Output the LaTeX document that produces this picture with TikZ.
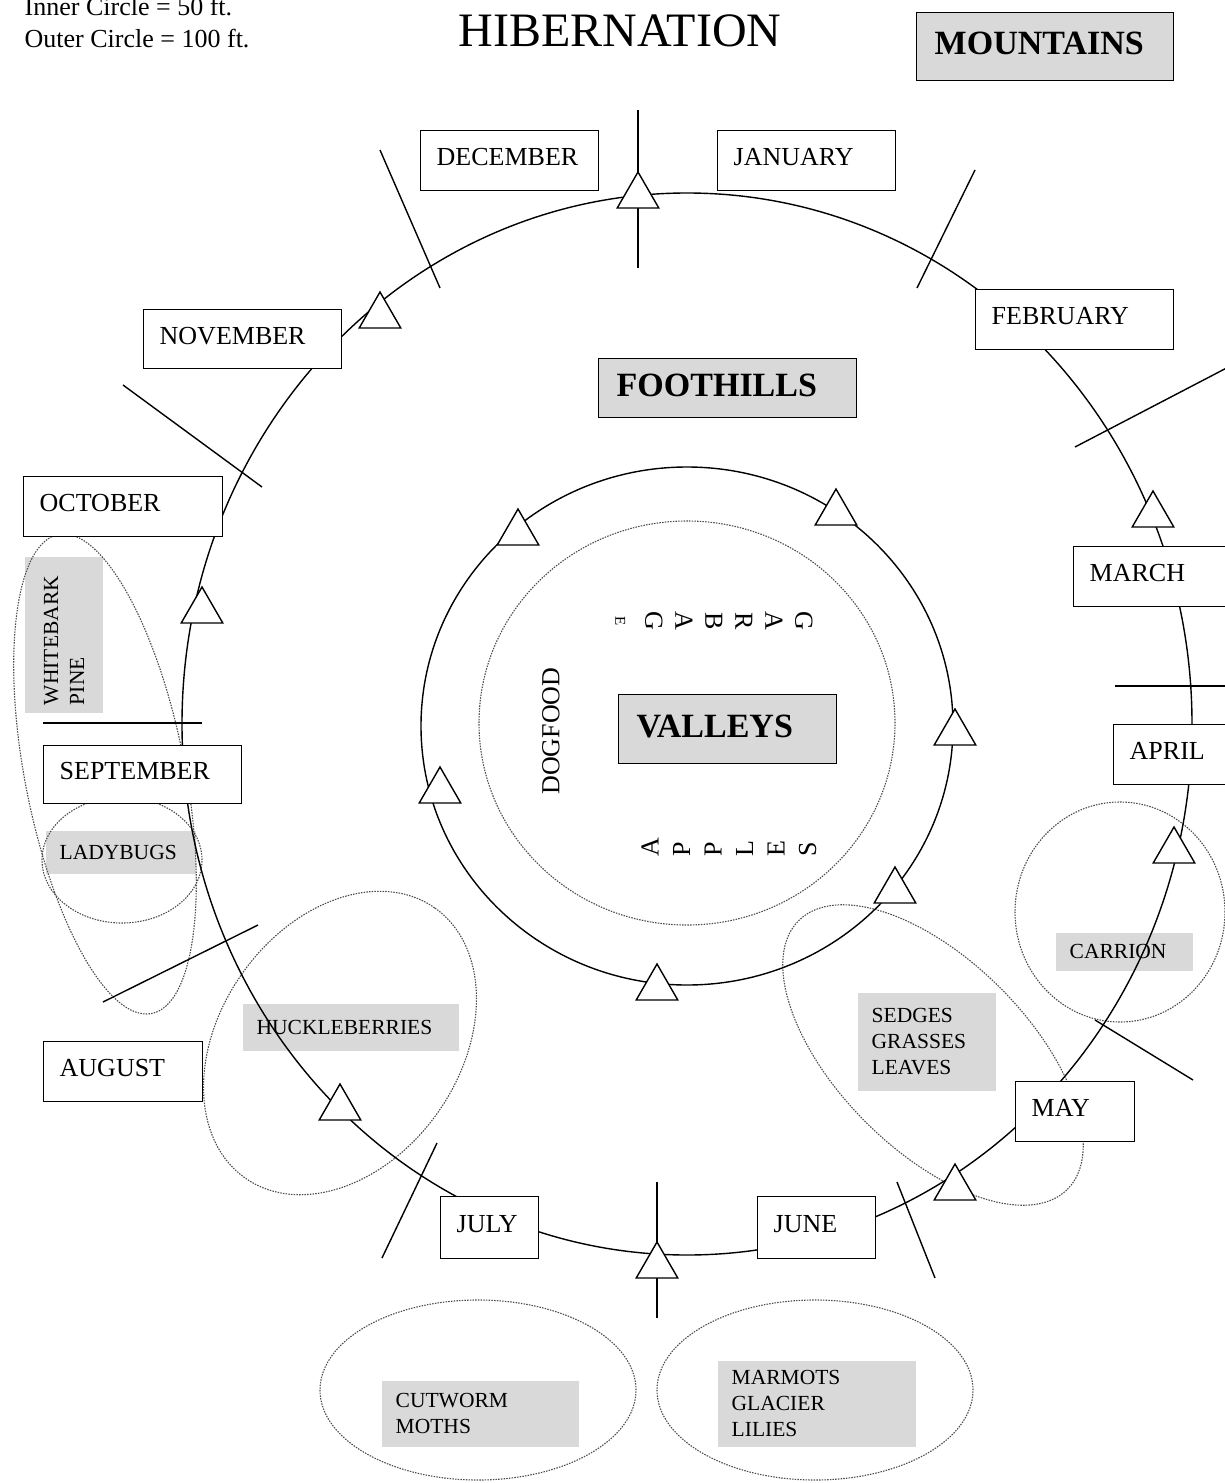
\documentclass[tikz,border=0pt]{standalone}
\usepackage{fontspec}
\setmainfont{Liberation Serif}
\usetikzlibrary{shapes.geometric}

\begin{document}
\begin{tikzpicture}[x=1pt,y=-1pt,line width=1.4pt]
%\draw[help lines,step=50] (0,0) grid (1225,1483);
\useasboundingbox (0,0) rectangle (1225,1483);
\tikzstyle{month}=[rectangle,draw,fill=white,anchor=north west,inner xsep=16pt,minimum height=60pt,text depth=7pt,font=\fontsize{26}{30}\selectfont]
\tikzstyle{zone}=[rectangle,draw,fill=black!15,anchor=north west,inner xsep=18pt,text depth=6pt,font=\fontsize{34}{40}\selectfont\bfseries]
\tikzstyle{food}=[rectangle,fill=black!15,anchor=north west,inner xsep=14pt,align=left,font=\fontsize{21.5}{26}\selectfont]
\tikzstyle{dots}=[draw=black!70,dash pattern=on 1.5pt off 1.2pt,line width=1.1pt]
\tikzstyle{ring}=[ellipse,dots,inner sep=0pt]
\tikzstyle{tri}=[regular polygon,regular polygon sides=3,draw,fill=white,inner sep=0pt,minimum size=48pt]
\tikzstyle{lbl}=[inner sep=0pt,font=\fontsize{26}{30}\selectfont]

\node[food,text width=122pt,minimum height=43pt] (bugs) at (45,830) {LADYBUGS};
\node[food,text width=188pt,minimum height=47pt] (huck) at (242,1003) {HUCKLEBERRIES};
\node[food,text width=169pt,minimum height=66pt] (moth) at (381,1380) {CUTWORM\\MOTHS};
\node[food,text width=170pt,minimum height=86pt] (marm) at (717,1360) {MARMOTS\\GLACIER\\LILIES};
\node[food,text width=110pt,minimum height=98pt] (sedge) at (857,992) {SEDGES\\GRASSES\\LEAVES};
\node[food,text width=109pt,minimum height=38pt] (carr) at (1055,932) {CARRION};
\node[food,anchor=center,rotate=90,inner xsep=8pt,text width=140pt,minimum height=78pt] (pine) at (64,635) {WHITEBARK\\PINE};

\node[ring,minimum width=160pt,minimum height=488pt,rotate=11] (pinering) at (105,774) {};
\node[ring,minimum width=160pt,minimum height=126pt] (bugring) at (122,860) {};
\node[ring,minimum width=330pt,minimum height=240pt,rotate=55] (huckring) at (340,1043) {};
\node[ring,minimum width=380pt,minimum height=190pt,rotate=-45] (sedgering) at (933,1055) {};
\node[ring,minimum width=210pt,minimum height=220pt] (carrring) at (1120,912) {};
\node[ring,minimum width=316pt,minimum height=180pt] (mothring) at (478,1390) {};
\node[ring,minimum width=316pt,minimum height=180pt] (marmring) at (815,1390) {};

\draw (687,724) ellipse [x radius=505pt,y radius=531pt];
\draw (687,726) ellipse [x radius=266pt,y radius=259pt];
\draw[dots] (687,723) ellipse [x radius=208pt,y radius=202pt];

\draw (638,110) -- (638,268);
\draw (380,150) -- (440,288);
\draw (975,170) -- (917,288);
\draw (1075,447) -- (1240,361);
\draw (1115,686) -- (1240,686);
\draw (1095,1020) -- (1193,1080);
\draw (897,1182) -- (935,1278);
\draw (657,1182) -- (657,1318);
\draw (437,1143) -- (382,1258);
\draw (258,925) -- (103,1002);
\draw (43,723) -- (202,723);
\draw (123,385) -- (262,487);

\node[month,text width=146pt] (dec) at (420,130) {DECEMBER};
\node[month,text width=146pt] (jan) at (717,130) {JANUARY};
\node[month,text width=166pt] (feb) at (975,289) {FEBRUARY};
\node[month,text width=140pt] (mar) at (1073,546) {MARCH};
\node[month,text width=100pt] (apr) at (1113,724) {APRIL};
\node[month,text width=87pt] (may) at (1015,1081) {MAY};
\node[month,text width=86pt,minimum height=62pt] (jun) at (757,1196) {JUNE};
\node[month,text width=66pt,minimum height=62pt] (jul) at (440,1196) {JULY};
\node[month,text width=127pt] (aug) at (43,1041) {AUGUST};
\node[month,text width=166pt,minimum height=58pt] (sep) at (43,745) {SEPTEMBER};
\node[month,text width=167pt] (oct) at (23,476) {OCTOBER};
\node[month,text width=166pt,minimum height=59pt] (nov) at (143,309) {NOVEMBER};

\node[zone,text width=221pt,minimum height=68pt] (mnt) at (916,12) {MOUNTAINS};
\node[zone,text width=222pt,minimum height=59pt] (fh) at (598,358) {FOOTHILLS};
\node[zone,text width=182pt,minimum height=69pt] (val) at (618,694) {VALLEYS};

\node[tri] (t1) at (638,196) {};
\node[tri] (t2) at (380,316) {};
\node[tri] (t3) at (1153,515) {};
\node[tri] (t4) at (1174,851) {};
\node[tri] (t5) at (955,1188) {};
\node[tri] (t6) at (657,1266) {};
\node[tri] (t7) at (340,1108) {};
\node[tri] (t8) at (202,611) {};
\node[tri] (t9) at (518,533) {};
\node[tri] (t10) at (836,513) {};
\node[tri] (t11) at (955,733) {};
\node[tri] (t12) at (895,891) {};
\node[tri] (t13) at (657,988) {};
\node[tri] (t14) at (440,791) {};

\node[lbl,anchor=base west] (inner) at (24,16) {Inner Circle = 50 ft.};
\node[lbl,anchor=base west] (outer) at (24,47) {Outer Circle = 100 ft.};
\node[lbl,anchor=base,font=\fontsize{48}{56}\selectfont] (title) at (620,46) {HIBERNATION};
\node[lbl,rotate=-90,align=center] (garb) at (714,621) {G\\A\\R\\B\\A\\G\\{\fontsize{15}{30}\selectfont E}};
\node[lbl,rotate=90,align=left,font=\fontsize{26}{31.5}\selectfont] (appl) at (729,847) {A\\P\\P\\L\\E\\S};
\node[lbl,rotate=90] (dog) at (551,731) {DOGFOOD};
\end{tikzpicture}
\end{document}
